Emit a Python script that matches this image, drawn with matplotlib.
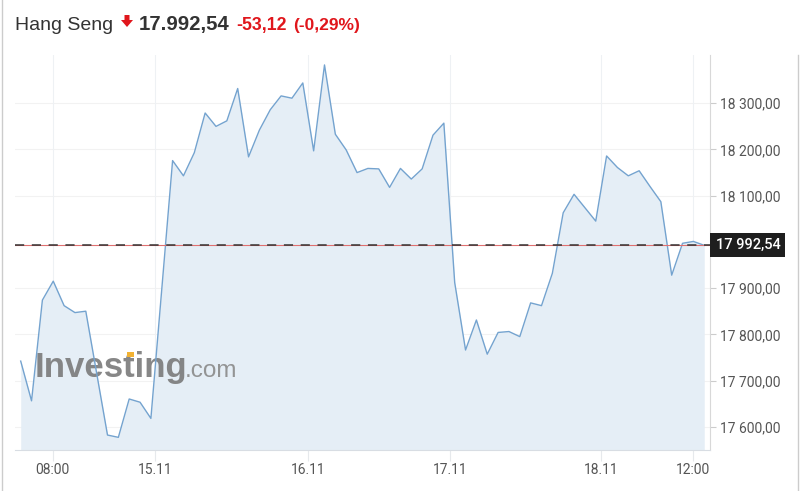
import matplotlib
matplotlib.use("Agg")
import matplotlib.pyplot as plt
from matplotlib.lines import Line2D
from matplotlib.patches import Polygon, Rectangle
from matplotlib.ticker import FuncFormatter
import numpy as np

# котировки индекса (по точкам графика)
prices = [17742, 17656, 17874, 17915, 17862, 17847, 17850, 17716, 17582, 17577,
          17660, 17653, 17618, 17897, 18176, 18143, 18193, 18279, 18250, 18262,
          18332, 18184, 18242, 18286, 18316, 18311, 18344, 18197, 18383, 18233,
          18199, 18150, 18159, 18158, 18118, 18159, 18136, 18158, 18231, 18257,
          17912, 17766, 17831, 17757, 17804, 17806, 17795, 17868, 17862, 17932,
          18063, 18103, 18074, 18045, 18186, 18161, 18143, 18154, 18120, 18087,
          17928, 17997, 18001, 17992.54]
last_price = 17992.54
x_tick_pos = [2.95, 12.4, 26.5, 39.6, 53.5, 62.0]
x_tick_labels = ["08:00", "15.11", "16.11", "17.11", "18.11", "12:00"]
y_ticks = [17600, 17700, 17800, 17900, 18000, 18100, 18200, 18300]

W, H = 806, 491
fig = plt.figure(figsize=(W / 100, H / 100), dpi=100)
fig.patch.set_facecolor("white")


def fx(px):
    return px / W


def fy(py):
    return 1 - py / H


ax = fig.add_axes([fx(15), fy(450), fx(710) - fx(15), fy(55) - fy(450)])
x = np.arange(len(prices))
y_bottom = 17549.6
ax.set_xlim(-0.525, 63.53)
ax.set_ylim(y_bottom, 18404.5)

ax.fill_between(x, prices, y_bottom, color="#e5eef6", zorder=1, linewidth=0)
ax.plot(x, prices, color="#74a3cf", linewidth=1.0, zorder=4)

# линия последней цены
ax.axhline(last_price, color="#e07070", linewidth=0.8, zorder=5)
ax.axhline(last_price, color="#333333", linewidth=1.1, dashes=(6, 5), zorder=6)

# сетка
for t in y_ticks:
    if t != 18000:
        ax.axhline(t, color="#f2f2f2", linewidth=0.8, zorder=0)
for t in x_tick_pos:
    ax.axvline(t, color="#eef1f4", linewidth=0.8, zorder=0)

for s in ["top", "left"]:
    ax.spines[s].set_visible(False)
ax.spines["right"].set_color("#d8d8d8")
ax.spines["bottom"].set_color("#d8dde3")

ax.set_yticks([t for t in y_ticks if t != 18000])
ax.yaxis.set_major_formatter(FuncFormatter(
    lambda v, p: "{:,.2f}".format(v).replace(",", " ").replace(".", ",")))
ax.tick_params(axis="y", left=False, labelleft=False, right=True, labelright=True,
               length=4, color="#cccccc", labelcolor="#555555", labelsize=10, pad=3)
ax.set_xticks(x_tick_pos)
ax.set_xticklabels(x_tick_labels)
ax.tick_params(axis="x", length=8, color="#e6e9ec", labelcolor="#555555", labelsize=10, pad=1)
for lab in ax.get_xticklabels() + ax.get_yticklabels():
    lab.set_fontfamily("Roboto")

# плашка с последней ценой
ax.annotate("17 992,54", xy=(1.0, last_price), xycoords=ax.get_yaxis_transform(),
            xytext=(5.5, 0), textcoords="offset pixels",
            ha="left", va="center", color="white", fontsize=10.5, fontfamily="Roboto",
            fontweight="medium", zorder=10, annotation_clip=False,
            bbox=dict(boxstyle="square,pad=0.35", facecolor="#1e1e1e", edgecolor="none"))

# водяной знак (под линией графика)
ax.text(fx(35), fy(377), "Investing", transform=fig.transFigure, fontsize=25,
        fontweight="bold", fontfamily="Liberation Sans", color="#7a7a7a", alpha=0.9, zorder=2)
ax.text(fx(185), fy(377), ".com", transform=fig.transFigure, fontsize=17.5,
        fontfamily="Liberation Sans", color="#8a8a8a", alpha=0.9, zorder=2)
# оранжевая метка над буквой t
renderer = fig.canvas.get_renderer()
tmp = fig.text(0, 0, "Inves", fontsize=25, fontweight="bold", fontfamily="Liberation Sans")
w_inves = tmp.get_window_extent(renderer).width
tmp2 = fig.text(0, 0, "Invest", fontsize=25, fontweight="bold", fontfamily="Liberation Sans")
w_invest = tmp2.get_window_extent(renderer).width
tmp.remove()
tmp2.remove()
t_left = 35 + w_inves
t_right = 35 + w_invest
ax.add_patch(Rectangle((fx(t_left + 3), fy(357)), fx(t_right - t_left - 5), 5 / H,
                       transform=fig.transFigure, facecolor="#f2b233", edgecolor="none",
                       zorder=3))

# заголовок
fig.text(fx(15), fy(30), "Hang Seng", fontsize=14, color="#333333",
         fontfamily="Liberation Sans")
fig.add_artist(Polygon([(fx(124.5), fy(15)), (fx(129.5), fy(15)), (fx(129.5), fy(20)),
                        (fx(133), fy(20)), (fx(127), fy(27)), (fx(121), fy(20)),
                        (fx(124.5), fy(20))], closed=True, facecolor="#e0161c",
                       edgecolor="none"))
fig.text(fx(139), fy(30), "17.992,54", fontsize=14.7, fontweight="bold", color="#333333",
         fontfamily="Liberation Sans")
fig.text(fx(236), fy(30), "-53,12", fontsize=12.8, fontweight="bold", color="#e0161c",
         fontfamily="Liberation Sans")
fig.text(fx(293), fy(30), "(-0,29%)", fontsize=12.5, fontweight="bold", color="#e0161c",
         fontfamily="Liberation Sans")

# рамка виджета
fig.add_artist(Line2D([fx(2), fx(2)], [0, 1], color="#cccccc", linewidth=1))
fig.add_artist(Line2D([fx(798), fx(798)], [0, fy(55)], color="#cccccc", linewidth=1))

fig.savefig("out.png", dpi=100)
